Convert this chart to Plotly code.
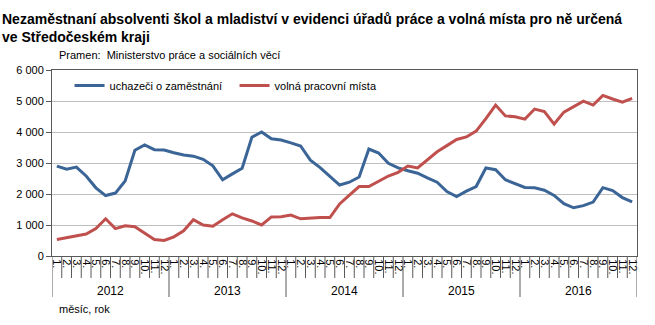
import plotly.graph_objects as go

# Monthly data, January 2012 - December 2016
years = ["2012", "2013", "2014", "2015", "2016"]
months = [f"{m}." for m in range(1, 13)]

uchazeci = [2900, 2800, 2870, 2580, 2200, 1950, 2030, 2420, 3410, 3580, 3430, 3420,
            3330, 3260, 3220, 3120, 2910, 2460, 2650, 2830, 3830, 4000, 3780, 3740,
            3650, 3550, 3090, 2850, 2570, 2290, 2380, 2550, 3450, 3320, 2990, 2840,
            2750, 2670, 2520, 2380, 2080, 1920, 2090, 2240, 2840, 2785, 2460, 2335,
            2210, 2200, 2120, 1955, 1685, 1555, 1625, 1740, 2205, 2110, 1885, 1745]

volna = [530, 590, 645, 710, 885, 1200, 885, 975, 945, 750, 530, 500,
         620, 815, 1170, 1000, 960, 1170, 1360, 1230, 1130, 1000, 1260, 1265,
         1320, 1200, 1230, 1240, 1240, 1680, 1960, 2240, 2240, 2410, 2580, 2700,
         2900, 2840, 3110, 3360, 3560, 3760, 3840, 4030, 4430, 4870, 4520, 4490,
         4415, 4740, 4660, 4256, 4642, 4825, 4995, 4870, 5180, 5065, 4963, 5085]

n = len(uchazeci)
xs = list(range(n))
tick_text = months * len(years)

FONT = "Liberation Sans Narrow, Arial Narrow, Liberation Sans, Arial, sans-serif"
BLUE = "#3A6596"
RED = "#C0504D"
AXIS = "#595959"

fig = go.Figure()
fig.add_trace(go.Scatter(x=xs, y=uchazeci, mode="lines", name="uchazeči o zaměstnání",
                         line=dict(color=BLUE, width=3)))
fig.add_trace(go.Scatter(x=xs, y=volna, mode="lines", name="volná pracovní místa",
                         line=dict(color=RED, width=3)))

plot_h = 186  # height of the plotting area in px

# month ticks at category boundaries, longer separators between years
shapes = []
for b in range(n + 1):
    is_year = b % 12 == 0
    depth = 41 if is_year else 22
    shapes.append(dict(type="line", xref="x", yref="paper",
                       x0=b - 0.5, x1=b - 0.5, y0=0, y1=-depth / plot_h,
                       line=dict(color=AXIS, width=1)))

annotations = []
for k, yr in enumerate(years):
    annotations.append(dict(text=yr, xref="x", yref="paper", x=k * 12 + 5.5,
                            y=-35 / plot_h, showarrow=False,
                            font=dict(size=12, color="#000000", family=FONT),
                            xanchor="center", yanchor="middle"))

annotations += [
    dict(text="<b>Nezaměstnaní absolventi škol a mladiství v evidenci úřadů práce a volná místa pro ně určená"
              "<br>ve Středočeském kraji</b>",
         xref="paper", yref="paper", x=-52 / 585, y=1 + 61 / plot_h,
         xanchor="left", yanchor="top", align="left", showarrow=False,
         font=dict(size=14, color="#000000", family=FONT)),
    dict(text="Pramen:  Ministerstvo práce a sociálních věcí",
         xref="paper", yref="paper", x=5 / 585, y=1 + 15 / plot_h,
         xanchor="left", yanchor="middle", showarrow=False,
         font=dict(size=11, color="#000000", family=FONT)),
    dict(text="měsíc, rok",
         xref="paper", yref="paper", x=5 / 585, y=-53 / plot_h,
         xanchor="left", yanchor="middle", showarrow=False,
         font=dict(size=11, color="#000000", family=FONT)),
]

fig.update_layout(
    width=655, height=325,
    margin=dict(l=52, r=18, t=70, b=69),
    paper_bgcolor="white", plot_bgcolor="white",
    font=dict(family=FONT, size=11, color="#000000"),
    separators=", ",
    showlegend=True,
    legend=dict(orientation="h", x=0.03, y=0.995, xanchor="left", yanchor="top",
                bgcolor="rgba(0,0,0,0)", font=dict(size=11, family=FONT),
                entrywidth=120, entrywidthmode="pixels", itemwidth=30),
    shapes=shapes,
    annotations=annotations,
)

fig.update_xaxes(range=[-0.5, n - 0.5], tickmode="array", tickvals=xs, ticktext=tick_text,
                 tickangle=90, ticks="", showgrid=False, zeroline=False,
                 showline=True, linecolor=AXIS, linewidth=1, mirror=True,
                 tickfont=dict(size=11, family=FONT))
fig.update_yaxes(range=[0, 6000], dtick=1000, tickformat=",d",
                 ticks="outside", ticklen=5, tickcolor=AXIS,
                 showgrid=True, gridcolor="#BFBFBF", gridwidth=1, zeroline=False,
                 showline=True, linecolor=AXIS, linewidth=1, mirror=True,
                 tickfont=dict(size=11, family=FONT))

fig.write_html("out.html")
